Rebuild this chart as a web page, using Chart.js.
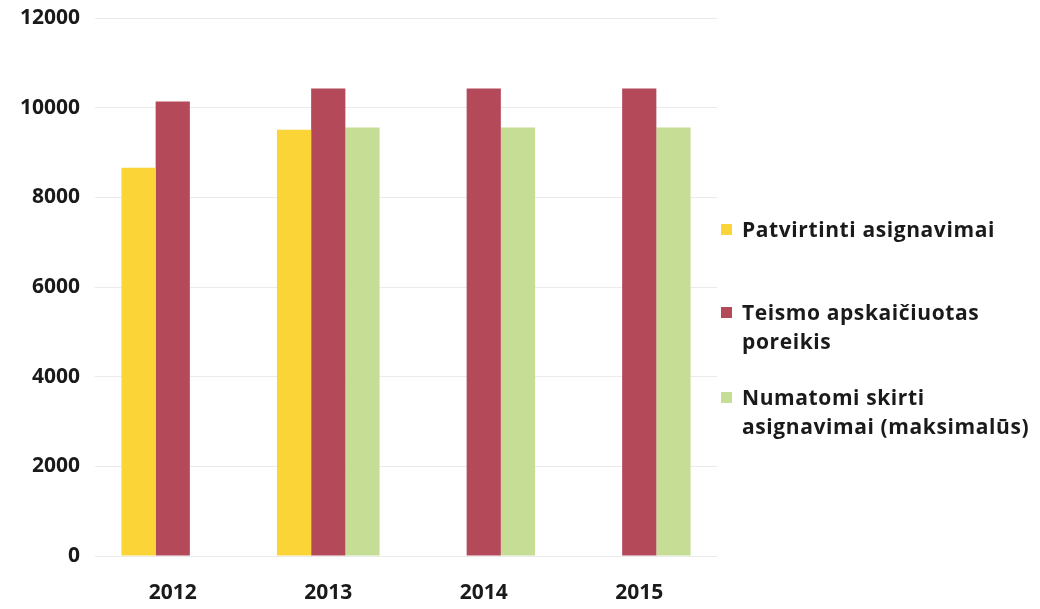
<!DOCTYPE html>
<html>
<head>
<meta charset="utf-8">
<script src="https://cdn.jsdelivr.net/npm/chart.js@4/dist/chart.umd.min.js"></script>
<style>
    body { margin: 0; background: #fff; }
    #wrap { position: relative; width: 1040px; height: 609px; }
    #legend { position: absolute; left: 721px; top: 215px; font-family: "Open Sans", sans-serif; font-weight: bold; font-size: 21px; letter-spacing: 0.6px; color: #1a1a1a; line-height: 29px; white-space: nowrap; }
    .item { position: relative; padding-left: 21px; }
    .box { position: absolute; left: 0; top: 9px; width: 11px; height: 11px; }
</style>
</head>
<body>
<div id="wrap">
    <canvas id="bar-chart" width="1040" height="609"></canvas>
    <div id="legend"></div>
</div>
<script>
var years = ["2012", "2013", "2014", "2015"];
var approved = [8660, 9510, null, null];
var courtNeed = [10140, 10430, 10430, 10430];
var planned = [null, 9560, 9560, 9560];
var seriesNames = ["Patvirtinti asignavimai", "Teismo apskaičiuotas poreikis", "Numatomi skirti asignavimai (maksimalūs)"];
var legendLines = [["Patvirtinti asignavimai"], ["Teismo apskaičiuotas", "poreikis"], ["Numatomi skirti", "asignavimai (maksimalūs)"]];
var colors = ["#fbd437", "#b4495a", "#c6dd95"];
var yTicks = [0, 2000, 4000, 6000, 8000, 10000, 12000];

window.onload = function() {
    new Chart(document.getElementById("bar-chart"), {
        type: 'bar',
        data: {
            labels: years,
            datasets: [
                { label: seriesNames[0], data: approved, backgroundColor: colors[0] },
                { label: seriesNames[1], data: courtNeed, backgroundColor: colors[1] },
                { label: seriesNames[2], data: planned, backgroundColor: colors[2] }
            ]
        },
        options: {
            responsive: false,
            animation: false,
            categoryPercentage: 0.66,
            barPercentage: 1.0,
            layout: { padding: { top: 18, right: 323, left: 0, bottom: 0 } },
            plugins: {
                legend: { display: false },
                tooltip: { enabled: false }
            },
            scales: {
                x: {
                    grid: { display: false },
                    border: { display: false },
                    ticks: {
                        color: '#1a1a1a',
                        font: { family: 'Open Sans', weight: 'bold', size: 21 },
                        padding: 16
                    },
                    afterFit: function(scale) { scale.height = 53; }
                },
                y: {
                    min: 0,
                    max: 12000,
                    afterBuildTicks: function(scale) {
                        scale.ticks = yTicks.map(function(v) { return { value: v }; });
                    },
                    grid: { color: '#ebebeb', drawTicks: false },
                    border: { display: false },
                    ticks: {
                        color: '#1a1a1a',
                        font: { family: 'Open Sans', weight: 'bold', size: 21 },
                        padding: 15,
                        callback: function(v) { return String(v); }
                    },
                    afterFit: function(scale) { scale.width = 95; scale.paddingTop = 0; scale.paddingBottom = 0; }
                }
            }
        }
    });

    var legend = document.getElementById("legend");
    var gaps = [0, 54, 27];
    legendLines.forEach(function(lines, i) {
        var item = document.createElement("div");
        item.className = "item";
        item.style.marginTop = gaps[i] + "px";
        var box = document.createElement("span");
        box.className = "box";
        box.style.background = colors[i];
        item.appendChild(box);
        lines.forEach(function(t) {
            var d = document.createElement("div");
            d.textContent = t;
            item.appendChild(d);
        });
        legend.appendChild(item);
    });
};
</script>
</body>
</html>
